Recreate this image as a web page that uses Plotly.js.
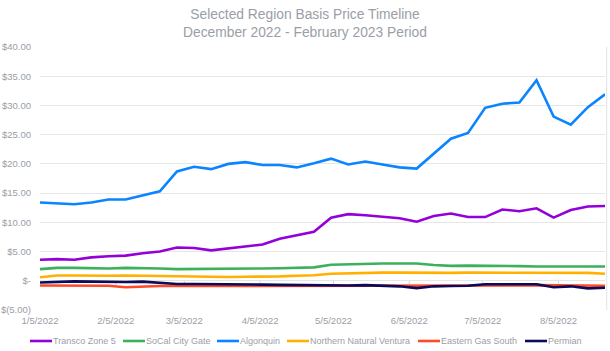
<!DOCTYPE html>
<html>
<head>
<meta charset="utf-8">
<script src="https://cdn.plot.ly/plotly-3.0.1.min.js"></script>
<style>html,body{margin:0;padding:0;background:#fff;}#chart{width:610px;height:351px;}</style>
</head>
<body>
<div id="chart"></div>
<script>
var dates = ["2022-01-05","2022-01-12","2022-01-19","2022-01-26","2022-02-02","2022-02-09","2022-02-16","2022-02-23",
  "2022-03-02","2022-03-09","2022-03-16","2022-03-23","2022-03-30","2022-04-06","2022-04-13","2022-04-20","2022-04-27",
  "2022-05-04","2022-05-11","2022-05-18","2022-05-25","2022-06-01","2022-06-08","2022-06-15","2022-06-22","2022-06-29",
  "2022-07-06","2022-07-13","2022-07-20","2022-07-27","2022-08-03","2022-08-10","2022-08-17","2022-08-24"];

var transcoZone5 = [3.6,3.7,3.6,4.0,4.2,4.3,4.7,5.0,5.7,5.6,5.2,5.5,5.8,6.2,7.2,7.8,8.4,10.8,11.4,11.2,11.0,10.7,10.1,11.1,11.5,10.9,10.9,12.2,11.9,12.4,10.8,12.1,12.7,12.8];
var socalCityGate = [2.0,2.2,2.2,2.1,2.1,2.2,2.2,2.1,2.0,2.0,2.0,2.0,2.05,2.1,2.15,2.2,2.3,2.75,2.85,2.9,2.95,2.95,2.95,2.7,2.55,2.6,2.6,2.55,2.5,2.45,2.45,2.45,2.5,2.45];
var algonquin = [13.4,13.2,13.1,13.4,13.9,13.9,14.6,15.3,18.7,19.5,19.1,20.0,20.3,19.8,19.8,19.4,20.1,20.9,19.9,20.4,19.9,19.4,19.2,21.7,24.3,25.3,29.6,30.3,30.5,34.3,28.1,26.7,29.7,31.9];
var northernNaturalVentura = [0.6,0.9,0.9,0.85,0.85,0.9,0.85,0.75,0.7,0.7,0.65,0.65,0.7,0.7,0.75,0.85,0.95,1.2,1.3,1.4,1.4,1.4,1.35,1.35,1.35,1.4,1.4,1.35,1.4,1.4,1.35,1.4,1.35,1.2];
var easternGasSouth = [-0.8,-0.8,-0.8,-0.8,-0.85,-1.1,-0.95,-0.9,-0.9,-0.9,-0.9,-0.85,-0.8,-0.8,-0.85,-0.9,-0.9,-0.9,-0.85,-0.9,-0.9,-0.85,-0.85,-0.9,-0.85,-0.85,-0.8,-0.8,-0.8,-0.75,-0.8,-0.8,-0.85,-0.85];
var permian = [-0.3,-0.15,-0.1,-0.15,-0.2,-0.2,-0.15,-0.3,-0.55,-0.55,-0.55,-0.6,-0.6,-0.65,-0.7,-0.75,-0.8,-0.8,-0.8,-0.75,-0.85,-0.95,-1.25,-0.95,-0.9,-0.85,-0.6,-0.6,-0.6,-0.6,-1.1,-0.95,-1.3,-1.2];

var seriesNames = ["Transco Zone 5","SoCal City Gate","Algonquin","Northern Natural Ventura","Eastern Gas South","Permian"];
var seriesValues = [transcoZone5, socalCityGate, algonquin, northernNaturalVentura, easternGasSouth, permian];

var xTickVals = ["2022-01-05","2022-02-05","2022-03-05","2022-04-05","2022-05-05","2022-06-05","2022-07-05","2022-08-05"];
var xTickText = ["1/5/2022","2/5/2022","3/5/2022","4/5/2022","5/5/2022","6/5/2022","7/5/2022","8/5/2022"];
var yTickVals = [-5,0,5,10,15,20,25,30,35,40];
var yTickText = ["$(5.00)","$-","$5.00","$10.00","$15.00","$20.00","$25.00","$30.00","$35.00","$40.00"];

// styling
var seriesColors = ["#9400D8","#3DB05C","#0A84FF","#FFB000","#FF4A2A","#0B0B5A"];
var W = 610, H = 351, ML = 40, MR = 5, MT = 47, MB = 41;
var plotW = W - ML - MR, plotH = H - MT - MB;
function px2x(px){ return (px - ML) / plotW; }
function py2y(py){ return (H - MB - py) / plotH; }
var legendSampleStart = [30, 123, 217, 287, 418, 525];
var legendSampleLen = 22;
var legendY = 341;
var gray = "#9a9ea6";
var fontFam = "Liberation Sans, Arial, sans-serif";

var drawOrder = [4,5,3,1,0,2];
var traces = drawOrder.map(function(i){
  return {x: dates, y: seriesValues[i], name: seriesNames[i], type: "scatter", mode: "lines",
          line: {color: seriesColors[i], width: 2.6}, showlegend: false, hoverinfo: "x+y+name"};
});

var shapes = [];
var annotations = [];
seriesNames.forEach(function(n,i){
  var x0 = legendSampleStart[i];
  shapes.push({type: "line", xref: "paper", yref: "paper", x0: px2x(x0), x1: px2x(x0 + legendSampleLen),
               y0: py2y(legendY), y1: py2y(legendY), line: {color: seriesColors[i], width: 2.6}});
  annotations.push({xref: "paper", yref: "paper", x: px2x(x0 + legendSampleLen), y: py2y(legendY),
                    xanchor: "left", yanchor: "middle", text: n, showarrow: false,
                    font: {size: 9, color: gray, family: fontFam}, borderpad: 0});
});
// small tick marks crossing the zero line
xTickVals.slice(1).forEach(function(d){
  shapes.push({type: "line", xref: "x", yref: "y", x0: d, x1: d, y0: 0, y1: -0.7,
               line: {color: "#d6d6d6", width: 1}, layer: "below"});
});
// right border of plot area
shapes.push({type: "line", xref: "paper", yref: "paper", x0: 1.003, x1: 1.003, y0: 0, y1: 1,
             line: {color: "#e2e2e2", width: 1}, layer: "below"});

var layout = {
  width: W, height: H,
  margin: {l: ML, r: MR, t: MT, b: MB},
  paper_bgcolor: "#fff", plot_bgcolor: "#fff",
  font: {family: fontFam, color: gray, size: 10},
  title: {text: "Selected Region Basis Price Timeline<br>December 2022 - February 2023 Period",
          x: 0.5, xanchor: "center", xref: "container", yref: "container", y: 1 - 19/H, yanchor: "middle",
          font: {size: 13.8, color: gray, family: fontFam}},
  xaxis: {type: "date", range: ["2022-01-05","2022-08-24"], tickvals: xTickVals, ticktext: xTickText,
          showgrid: false, zeroline: false, showline: false, ticks: "", ticklabelstandoff: 3,
          tickfont: {size: 9.5, color: gray}},
  yaxis: {range: [-5, 40], tickvals: yTickVals, ticktext: yTickText, showgrid: true, gridcolor: "#e6e6e6",
          gridwidth: 1, zeroline: false, showline: false, ticks: "", ticklabelstandoff: 8,
          tickfont: {size: 9.5, color: gray}},
  shapes: shapes,
  annotations: annotations,
  showlegend: false
};

Plotly.newPlot("chart", traces, layout, {displayModeBar: false, staticPlot: true});
</script>
</body>
</html>
